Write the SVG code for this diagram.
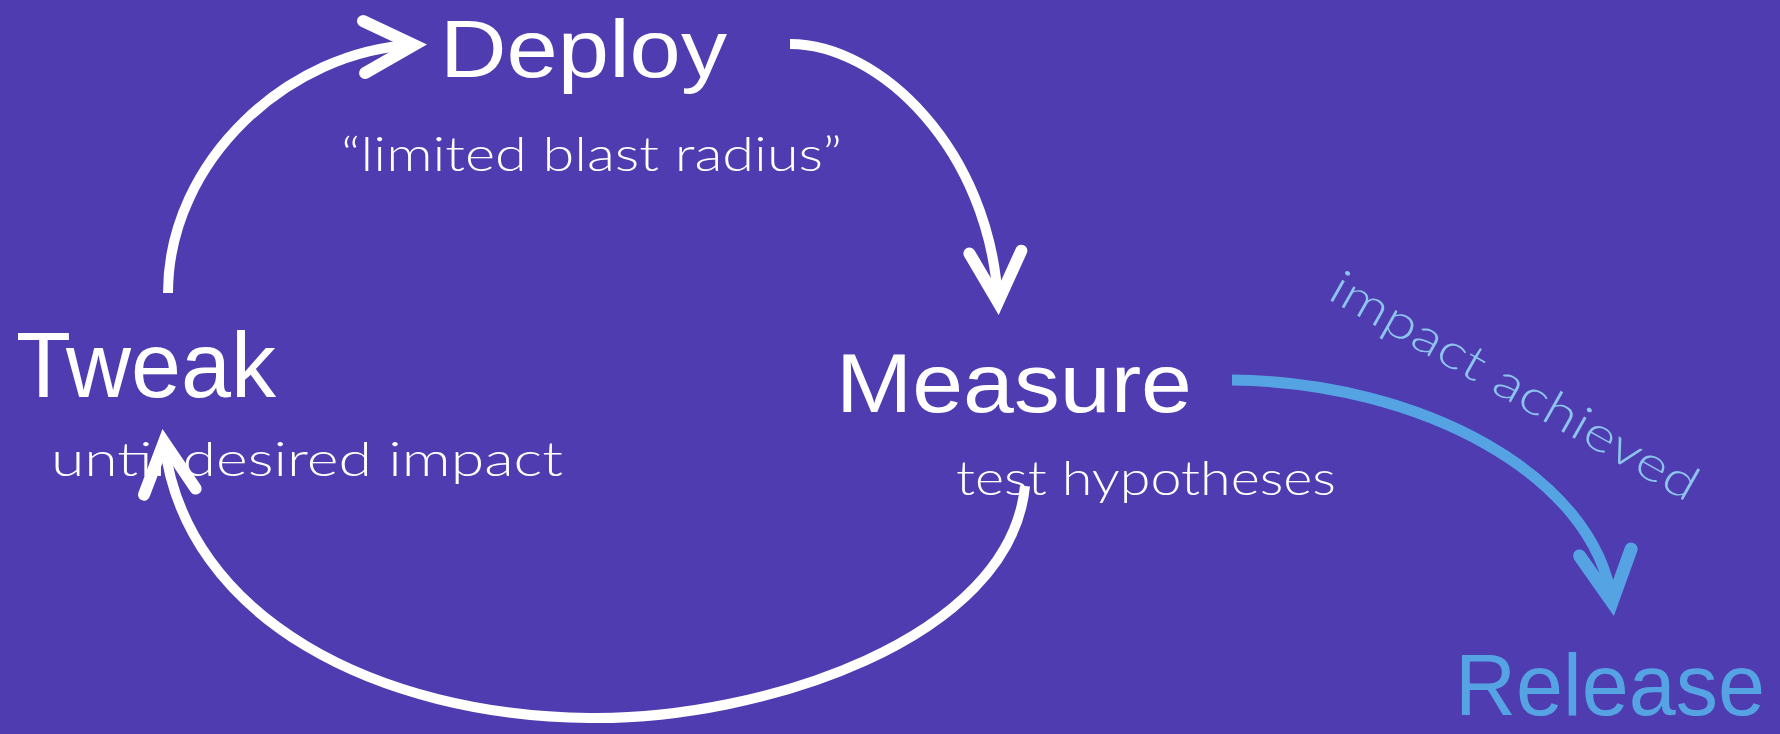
<svg xmlns="http://www.w3.org/2000/svg" width="1780" height="734" viewBox="0 0 1780 734">
<style>
.big{font-family:"Liberation Sans",Arial,sans-serif;fill:#ffffff}
.sub{font-family:Lato,"Liberation Sans",sans-serif;font-weight:300;fill:#ffffff}
.w{fill:none;stroke:#ffffff;stroke-width:10}
.b{fill:none;stroke:#55a3e2;stroke-width:11}
</style>
<defs>
<marker id="aw" markerUnits="userSpaceOnUse" orient="auto" refX="0" refY="0" markerWidth="80" markerHeight="80" viewBox="-60 -40 80 80" overflow="visible">
<path d="M-50,-26 L0,0 L-50,26" fill="none" stroke="#ffffff" stroke-width="12" stroke-linecap="round" stroke-linejoin="miter"/>
</marker>
<marker id="ab" markerUnits="userSpaceOnUse" orient="auto" refX="0" refY="0" markerWidth="80" markerHeight="80" viewBox="-60 -40 80 80" overflow="visible">
<path d="M-50,-26 L0,0 L-50,26" fill="none" stroke="#55a3e2" stroke-width="13" stroke-linecap="round" stroke-linejoin="miter"/>
</marker>
</defs>
<rect x="0" y="0" width="1780" height="734" fill="#4f3cb1"/>
<g id="deploy">
<text class="big" x="440" y="77" font-size="82" textLength="287" lengthAdjust="spacingAndGlyphs">Deploy</text>
<text class="sub" x="341" y="171" font-size="48" textLength="501" lengthAdjust="spacingAndGlyphs">“limited blast radius”</text>
</g>
<g id="tweak">
<text class="big" x="16" y="397" font-size="92" textLength="260" lengthAdjust="spacingAndGlyphs">Tweak</text>
<text class="sub" x="51" y="476" font-size="48" textLength="512" lengthAdjust="spacingAndGlyphs">until desired impact</text>
</g>
<g id="measure">
<text class="big" x="836" y="412" font-size="84" textLength="356" lengthAdjust="spacingAndGlyphs">Measure</text>
<text class="sub" x="956" y="495" font-size="48" textLength="380" lengthAdjust="spacingAndGlyphs">test hypotheses</text>
</g>
<g id="release">
<text x="1455" y="715" font-size="88" textLength="310" lengthAdjust="spacingAndGlyphs" style="font-family:'Liberation Sans',Arial,sans-serif;fill:#55a3e2">Release</text>
</g>
<g id="connectors">
<path class="w" d="M168,293 C168,160 290,50 414,45" marker-end="url(#aw)"/>
<path class="w" d="M790,44 C880,44 990,150 998,302" marker-end="url(#aw)"/>
<path class="w" d="M1025,486 C1010,640 760,720 590,718 C380,716 185,620 164,442" marker-end="url(#aw)"/>
<path class="b" d="M1232,380 C1420,382 1595,475 1612,602" marker-end="url(#ab)"/>
<text transform="translate(1326,298) rotate(29.5)" x="0" y="0" font-size="48" textLength="415" lengthAdjust="spacingAndGlyphs" style="font-family:Lato,'Liberation Sans',sans-serif;font-weight:300;fill:#8cc4ec">impact achieved</text>
</g>
</svg>
